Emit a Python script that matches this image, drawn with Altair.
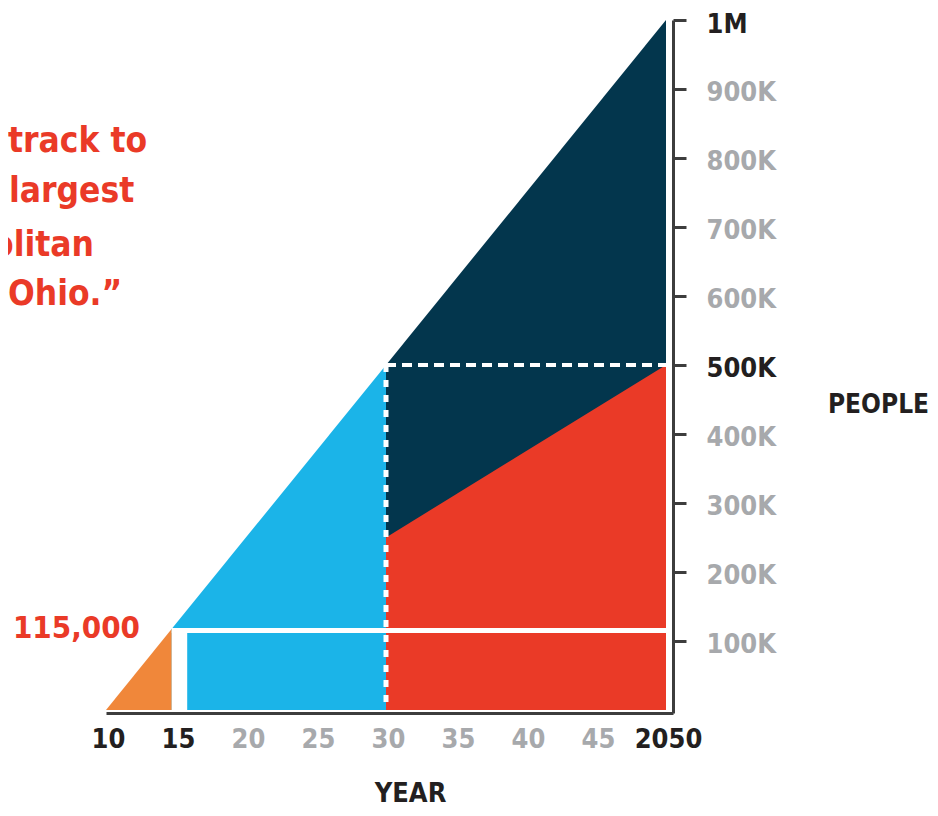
import altair as alt
import pandas as pd

# ---------------- data ----------------
seg_names = ["orange", "blue", "navy"]
seg_start_year = [2010, 2014.7, 2030]
seg_end_year = [2014.7, 2030, 2050]
seg_start_people = [0, 117500, 500000]
seg_end_people = [117500, 500000, 1000000]
seg_colors = ["#f0873a", "#1bb4e8", "#03364d"]

red_years = [2030, 2050]
red_top = [250000, 500000]

milestone_people = 115000
milestone_label = "115,000"
gap_years = [2014.7, 2015.8]
split_year = 2030
end_year = 2050
half_people = 500000

x_ticks = [2010, 2015, 2020, 2025, 2030, 2035, 2040, 2045, 2050]
y_ticks = [100000, 200000, 300000, 400000, 500000, 600000, 700000, 800000, 900000, 1000000]

quote_lines = ["track to", "largest", "olitan", "Ohio.\u201d"]
quote_x = [-98, -97, -114, -98]
quote_y = [132, 182, 236, 285]

FONT = "DejaVu Sans Condensed, DejaVu Sans"
DARK = "#231f20"
GRAY = "#a7a9ac"
RED = "#ea3a27"
AXIS = "#3d3d3d"

xs = alt.Scale(domain=[2010, 2050.5], nice=False, zero=False)
ys = alt.Scale(domain=[-4500, 1000000], nice=False, zero=False)

x_axis = alt.Axis(
    values=x_ticks, ticks=False, grid=False, domainColor=AXIS, domainWidth=3,
    labelFont=FONT, labelFontSize=27, labelFontWeight="bold",
    labelColor={"condition": {"test": "datum.value == 2010 || datum.value == 2015 || datum.value == 2050",
                              "value": DARK}, "value": GRAY},
    labelExpr="datum.value == 2050 ? '2050' : '' + (datum.value % 100)",
    labelPadding=13, labelFlush=False, labelOverlap=False, labelOffset=2,
    title="YEAR", titleFont=FONT, titleFontSize=27, titleFontWeight="bold", titleColor=DARK,
    titleX=304, titleY=80, titleAlign="center", titleBaseline="middle",
)
y_axis = alt.Axis(
    orient="right", values=y_ticks, grid=False, domainColor=AXIS, domainWidth=3,
    tickColor=AXIS, tickWidth=3, tickSize=13,
    labelFont=FONT, labelFontSize=27, labelFontWeight="bold",
    labelColor={"condition": {"test": "datum.value == 500000 || datum.value == 1000000",
                              "value": DARK}, "value": GRAY},
    labelExpr="datum.value == 1000000 ? '1M' : (datum.value / 1000) + 'K'",
    labelPadding=20, labelFlush=False, labelOverlap=False, labelBaseline="middle",
    labelOffset=4,
    title="PEOPLE", titleFont=FONT, titleFontSize=26, titleFontWeight="bold", titleColor=DARK,
    titleAngle=0, titleX=205, titleY=384, titleAlign="center", titleBaseline="middle",
)

X = alt.X("year:Q", scale=xs, axis=x_axis)
Y = alt.Y("people:Q", scale=ys, axis=y_axis)

layers = []
for i, name in enumerate(seg_names):
    df = pd.DataFrame({
        "year": [seg_start_year[i], seg_end_year[i]],
        "people": [seg_start_people[i], seg_end_people[i]],
        "base": [0, 0],
    })
    layers.append(alt.Chart(df).mark_area(color=seg_colors[i]).encode(x=X, y=Y, y2="base:Q"))

red_df = pd.DataFrame({"year": red_years, "people": red_top, "base": [0, 0]})
layers.append(alt.Chart(red_df).mark_area(color=RED).encode(x=X, y=Y, y2="base:Q"))

gap_df = pd.DataFrame({"year": [gap_years[0]], "year_end": [gap_years[1]],
                       "people": [milestone_people], "base": [0]})
layers.append(alt.Chart(gap_df).mark_rect(color="white").encode(
    x=X, x2="year_end:Q", y=Y, y2="base:Q"))

line_df = pd.DataFrame({"year": [gap_years[0]], "year_end": [end_year], "people": [milestone_people]})
layers.append(alt.Chart(line_df).mark_rule(color="white", strokeWidth=5).encode(
    x=X, x2="year_end:Q", y=Y))

vdash_df = pd.DataFrame({"year": [split_year], "people": [half_people], "base": [0]})
layers.append(alt.Chart(vdash_df).mark_rule(color="white", strokeWidth=5, strokeDash=[7, 8]).encode(
    x=X, y=Y, y2="base:Q"))

hdash_df = pd.DataFrame({"year": [split_year], "year_end": [end_year], "people": [half_people]})
layers.append(alt.Chart(hdash_df).mark_rule(color="white", strokeWidth=4, strokeDash=[10, 6]).encode(
    x=X, x2="year_end:Q", y=Y))

lab_df = pd.DataFrame({"year": [seg_start_year[0]], "people": [milestone_people], "label": [milestone_label]})
layers.append(alt.Chart(lab_df).mark_text(
    font=FONT, fontSize=31, fontWeight="bold", color=RED, align="right", baseline="middle", dx=34, dy=-2
).encode(x=X, y=Y, text="label:N"))

quote_df = pd.DataFrame({"line": quote_lines, "px": quote_x, "py": quote_y})
layers.append(alt.Chart(quote_df).mark_text(
    font=FONT, fontSize=35, fontWeight="bold", color=RED, align="left", baseline="alphabetic"
).encode(x=alt.X("px:Q", scale=None), y=alt.Y("py:Q", scale=None), text="line:N"))

chart = alt.layer(*layers).properties(
    width=567, height=693,
    autosize=alt.AutoSizeParams(type="none"),
    padding={"left": 98, "top": 12, "right": 257, "bottom": 95},
    background="white",
).configure_view(stroke=None)

chart.save("out.html", embed_options={"renderer": "svg", "actions": False})
